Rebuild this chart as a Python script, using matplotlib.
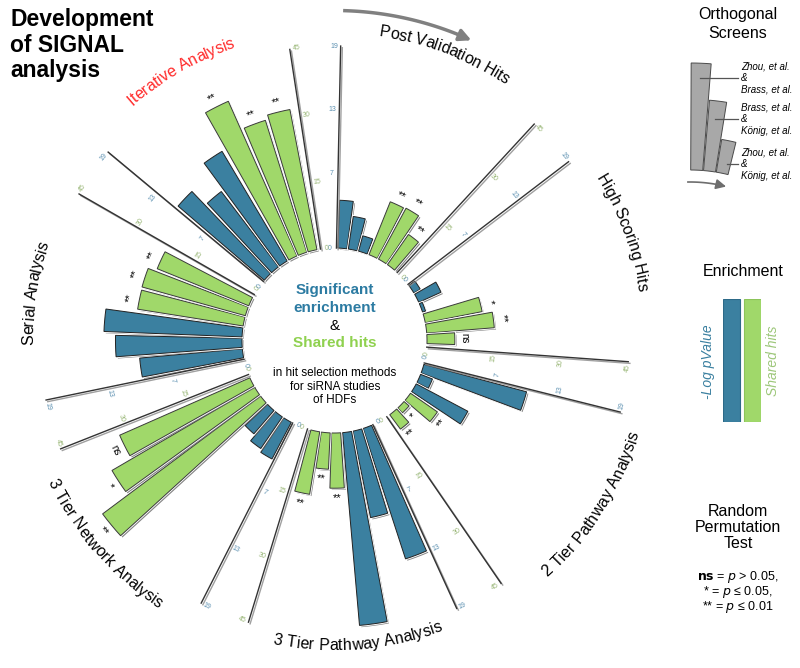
import numpy as np
import matplotlib
matplotlib.use('Agg')
import matplotlib.pyplot as plt
import matplotlib.patheffects as pe
from matplotlib.lines import Line2D
from matplotlib.font_manager import FontProperties, findfont
from matplotlib.ft2font import FT2Font

plt.rcParams['font.family'] = ['Liberation Sans', 'DejaVu Sans']

# data (clockwise from the top)
groups = ['Post Validation Hits', 'High Scoring Hits', '2 Tier Pathway Analysis',
          '3 Tier Pathway Analysis', '3 Tier Network Analysis', 'Serial Analysis',
          'Iterative Analysis']
pvalue = [[4.5, 3.1, 1.5], [0.7, 2.3, 0.3], [10.0, 1.2, 5.5], [12.9, 8.3, 18.2],
          [3.9, 3.6, 2.9], [9.7, 11.9, 13.0], [10.7, 8.9, 12.0]]
shared = [[12.7, 12.9, 8.2], [12.9, 15.1, 6.2], [7.3, 1.5, 4.0], [12.3, 8.1, 14.1],
          [43.9, 36.8, 31.7], [23.8, 23.9, 22.0], [37.7, 30.8, 31.8]]
signif = [['**', '**', '**'], ['*', '**', 'ns'], ['**', '*', '**'], ['**', '**', '**'],
          ['**', '*', 'ns'], ['**', '**', '**'], ['**', '**', '**']]
pvalue_ticks = [0, 7, 13, 19]
shared_ticks = [0, 15, 30, 45]
ortho_pairs = ['Zhou, et al.\n&\nBrass, et al.',
               'Brass, et al.\n&\nKönig, et al.',
               'Zhou, et al.\n&\nKönig, et al.']
ortho_sizes = [1.0, 0.66, 0.31]

BLUE = '#3b80a0'
GREEN = '#a0d86a'
BLUE_TXT = '#5a8fb0'
GREEN_TXT = '#97b574'

W, H = 800, 668
CX, CY = 334.5, 340.5
R0, AXLEN, RMAX = 92.5, 202, 300

fig = plt.figure(figsize=(W / 100, H / 100), dpi=100)
ax = fig.add_axes([(CX - RMAX) / W, (H - CY - RMAX) / H, 2 * RMAX / W, 2 * RMAX / H],
                  projection='polar')
ax.set_theta_zero_location('N')
ax.set_theta_direction(-1)
ax.set_ylim(0, RMAX)
ax.axis('off')


def tang_rot(th):
    return (-th + 90) % 180 - 90


bar_fx = [pe.SimplePatchShadow(offset=(1.3, -1.3), shadow_rgbFace='#666666', alpha=0.8),
          pe.Stroke(linewidth=2.0, foreground='white'), pe.Normal()]
line_fx = [pe.SimpleLineShadow(offset=(1.2, -1.2), shadow_color='#888888', alpha=0.8),
           pe.Normal()]

for k in range(len(groups)):
    s = 1.2 + k * 360 / 7
    b_th = s + np.array([3.7, 10.2, 16.7])
    g_th = s + np.array([23.5, 30.0, 36.5])
    b_ax = s
    g_ax = s + 41.5
    bl = np.array(pvalue[k]) * AXLEN / 19
    gr = np.array(shared[k]) * AXLEN / 45
    bars1 = ax.bar(np.deg2rad(b_th), bl, width=np.deg2rad(5.6), bottom=R0,
                   color=BLUE, edgecolor='#222222', linewidth=0.7)
    bars2 = ax.bar(np.deg2rad(g_th), gr, width=np.deg2rad(5.6), bottom=R0,
                   color=GREEN, edgecolor='#3a3a3a', linewidth=0.7)
    for p in list(bars1) + list(bars2):
        p.set_path_effects(bar_fx)
    # axes lines
    for th, ticks, col, side in [(b_ax, pvalue_ticks, BLUE_TXT, -1),
                                 (g_ax, shared_ticks, GREEN_TXT, 1)]:
        ax.plot([np.deg2rad(th)] * 2, [R0, R0 + AXLEN], color='#333333', lw=1.0,
                path_effects=line_fx)
        for t in ticks:
            r = R0 + t / ticks[-1] * AXLEN
            tt = th + side * np.rad2deg(6.5 / r)
            ax.text(np.deg2rad(tt), r, str(t), fontsize=5, color=col,
                    rotation=tang_rot(tt), ha='center', va='center')
    # significance marks
    for th, h, m in zip(g_th, gr, signif[k]):
        ax.text(np.deg2rad(th), R0 + h + 10, m, fontsize=8 if m != 'ns' else 7,
                rotation=tang_rot(th), ha='center', va='center', clip_on=False)

# curved group labels
label_pos = [(21, 312, False), (69.5, 312, False), (122.5, 314, True), (175.5, 305, True),
             (228.5, 316, True), (279, 306, False), (330.3, 314, False)]
label_col = ['black'] * 6 + ['#ff2a2a']


def curved_text(s, thc, r, flip, color, fs=11.5):
    font = FT2Font(findfont(FontProperties(family='Liberation Sans')))
    font.set_size(fs, 100)
    adv = []
    for c in s:
        g = font.load_char(ord(c))
        adv.append(g.linearHoriAdvance / 65536)
    adv = np.array(adv)
    cen = np.cumsum(adv) - adv / 2 - adv.sum() / 2
    for c, d in zip(s, cen):
        if c == ' ':
            continue
        dd = np.rad2deg(d / r)
        if flip:
            th = thc - dd
            rot = 180 - th
        else:
            th = thc + dd
            rot = -th
        ax.text(np.deg2rad(th), r, c, fontsize=fs, color=color, rotation=rot,
                rotation_mode='anchor', ha='center', va='center', clip_on=False)


for name, (thc, r, flip), col in zip(groups, label_pos, label_col):
    curved_text(name, thc, r, flip, col)

# arrow above Post Validation Hits
arc = np.deg2rad(np.linspace(1.8, 22, 40))
ax.plot(arc, np.full_like(arc, 330), color='#808080', lw=2.5, clip_on=False)
ax.annotate('', xy=(np.deg2rad(25), 330), xytext=(np.deg2rad(21.5), 330),
            arrowprops=dict(arrowstyle='-|>,head_length=0.7,head_width=0.35',
                            color='#808080', lw=2.5), annotation_clip=False)


def fx(x):
    return x / W


def fy(y):
    return 1 - y / H


# title
fig.text(fx(10), fy(8), 'Development\nof SIGNAL\nanalysis', fontsize=16.5,
         fontweight='bold', ha='left', va='top', linespacing=1.15)

# centre text
fig.text(fx(335), fy(290), 'Significant', fontsize=11, fontweight='bold', color='#2c7ba2',
         ha='center', va='center')
fig.text(fx(335), fy(308), 'enrichment', fontsize=11, fontweight='bold', color='#2c7ba2',
         ha='center', va='center')
fig.text(fx(335), fy(326), '&', fontsize=11, ha='center', va='center')
fig.text(fx(335), fy(343), 'Shared hits', fontsize=11, fontweight='bold', color='#8fd14f',
         ha='center', va='center')
for y, t in zip([373, 387, 400], ['in hit selection methods', 'for siRNA studies', 'of HDFs']):
    fig.text(fx(335), fy(y), t, fontsize=8.5, ha='center', va='center')

# orthogonal screens panel
fig.text(fx(738), fy(15), 'Orthogonal', fontsize=11.5, ha='center', va='center')
fig.text(fx(738), fy(33), 'Screens', fontsize=11.5, ha='center', va='center')
OX, OY, OR = 690, 330, 280
iax = fig.add_axes([(OX - OR) / W, (H - OY - OR) / H, 2 * OR / W, 2 * OR / H],
                   projection='polar')
iax.set_theta_zero_location('N')
iax.set_theta_direction(-1)
iax.set_ylim(0, OR)
iax.axis('off')
iax.bar(np.deg2rad([2.4, 7.0, 11.6]), np.array(ortho_sizes) * 107, width=np.deg2rad(4.3),
        bottom=160, color='#a8a8a8', edgecolor='#4a4a4a', linewidth=0.7)
arc2 = np.deg2rad(np.linspace(-0.8, 12, 30))
iax.plot(arc2, np.full_like(arc2, 148), color='#6e6e6e', lw=1.2, clip_on=False)
iax.annotate('', xy=(np.deg2rad(15.2), 148), xytext=(np.deg2rad(11.5), 148),
             arrowprops=dict(arrowstyle='-|>,head_length=0.6,head_width=0.3',
                             color='#6e6e6e', lw=1.2), annotation_clip=False)
for (x0, y), t in zip([(700, 78), (715, 119), (727, 164)], ortho_pairs):
    fig.add_artist(Line2D([fx(x0), fx(738)], [fy(y), fy(y)], color='#555555', lw=0.9))
    fig.text(fx(741), fy(y), t, fontsize=7, style='italic', ha='left', va='center',
             linespacing=1.2)

# enrichment legend
fig.text(fx(743), fy(272), 'Enrichment', fontsize=11.5, ha='center', va='center')
lax = fig.add_axes([fx(723), fy(422), 38 / W, 123 / H])
lax.bar([0, 1], [1, 1], width=0.81, color=[BLUE, GREEN], edgecolor=['#2d6a88', '#8cc45a'],
        linewidth=0.8)
lax.set_xlim(-0.405, 1.405)
lax.set_ylim(0, 1)
lax.axis('off')
fig.text(fx(708), fy(362), '-Log pValue', fontsize=10, style='italic', color=BLUE,
         rotation=90, ha='center', va='center')
fig.text(fx(773), fy(361), 'Shared hits', fontsize=10, style='italic', color='#9dc77a',
         rotation=90, ha='center', va='center')

# permutation test legend
for y, t in zip([512, 528, 544], ['Random', 'Permutation', 'Test']):
    fig.text(fx(738), fy(y), t, fontsize=11.5, ha='center', va='center')
for y, t in zip([577, 592, 607], [r'$\mathbf{ns}$ = $p$ > 0.05,', r'* = $p$ ≤ 0.05,',
                                  r'** = $p$ ≤ 0.01']):
    fig.text(fx(738), fy(y), t, fontsize=9, ha='center', va='center')

fig.savefig('out.png', dpi=100)
